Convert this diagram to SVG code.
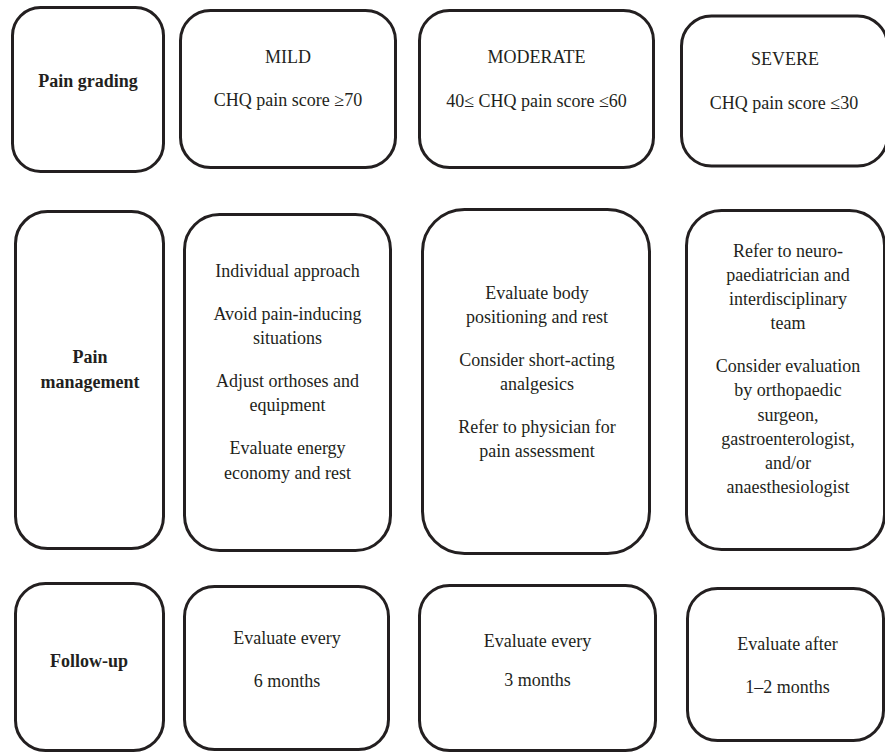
<svg xmlns="http://www.w3.org/2000/svg" width="885" height="753" viewBox="0 0 885 753">
<style>
.box{fill:#fff;stroke:#231f20;stroke-width:3}
text{font-family:Liberation Serif, Tinos, Times New Roman, Times, DejaVu Serif, Noto Serif, FreeSerif, serif;font-size:18px;fill:#231f20;text-anchor:middle}
.b{font-weight:bold}
</style>
<rect width="885" height="753" fill="#fff"/>
<g id="connectors"></g>
<g id="pain-grading">
<rect class="box" x="12.5" y="7.5" width="151" height="164" rx="28"/>
<text class="b" x="88" y="87">Pain grading</text>
</g>
<g id="grading-mild">
<rect class="box" x="180.5" y="10.5" width="215" height="157" rx="30"/>
<text x="288" y="63">MILD</text>
<text x="288" y="106">CHQ pain score ≥70</text>
</g>
<g id="grading-moderate">
<rect class="box" x="419.5" y="10.5" width="234" height="157" rx="30"/>
<text x="536.5" y="63">MODERATE</text>
<text x="536.5" y="107">40≤ CHQ pain score ≤60</text>
</g>
<g id="grading-severe">
<rect class="box" x="681.5" y="16" width="206" height="150" rx="30"/>
<text x="785" y="65">SEVERE</text>
<text x="784" y="109">CHQ pain score ≤30</text>
</g>
<g id="pain-management">
<rect class="box" x="15.5" y="211.5" width="148" height="337" rx="32"/>
<text class="b" x="90" y="363">Pain</text>
<text class="b" x="90" y="388">management</text>
</g>
<g id="management-mild">
<rect class="box" x="184.5" y="214.5" width="206" height="336" rx="35"/>
<text x="287.5" y="277">Individual approach</text>
<text x="287.5" y="320">Avoid pain-inducing</text>
<text x="287.5" y="344">situations</text>
<text x="287.5" y="387">Adjust orthoses and</text>
<text x="287.5" y="411">equipment</text>
<text x="287.5" y="454">Evaluate energy</text>
<text x="287.5" y="479">economy and rest</text>
</g>
<g id="management-moderate">
<rect class="box" x="422.5" y="209.5" width="227" height="344" rx="42"/>
<text x="537" y="299">Evaluate body</text>
<text x="537" y="323">positioning and rest</text>
<text x="537" y="366">Consider short-acting</text>
<text x="537" y="390">analgesics</text>
<text x="537" y="433">Refer to physician for</text>
<text x="537" y="457">pain assessment</text>
</g>
<g id="management-severe">
<rect class="box" x="686.5" y="210.5" width="198" height="339" rx="35"/>
<text x="788" y="257">Refer to neuro-</text>
<text x="788" y="281">paediatrician and</text>
<text x="788" y="305">interdisciplinary</text>
<text x="788" y="329">team</text>
<text x="788" y="372">Consider evaluation</text>
<text x="788" y="396">by orthopaedic</text>
<text x="788" y="421">surgeon,</text>
<text x="788" y="445">gastroenterologist,</text>
<text x="788" y="469">and/or</text>
<text x="788" y="493">anaesthesiologist</text>
</g>
<g id="follow-up">
<rect class="box" x="15.5" y="583.5" width="148" height="167" rx="30"/>
<text class="b" x="89" y="667">Follow-up</text>
</g>
<g id="followup-mild">
<rect class="box" x="184.5" y="586.5" width="204" height="163" rx="30"/>
<text x="287" y="644">Evaluate every</text>
<text x="287" y="687">6 months</text>
</g>
<g id="followup-moderate">
<rect class="box" x="419.5" y="585.5" width="236" height="165" rx="30"/>
<text x="537.5" y="647">Evaluate every</text>
<text x="537.5" y="686">3 months</text>
</g>
<g id="followup-severe">
<rect class="box" x="687.5" y="588.5" width="196" height="152" rx="30"/>
<text x="787.5" y="650">Evaluate after</text>
<text x="787.5" y="693">1–2 months</text>
</g>
</svg>
